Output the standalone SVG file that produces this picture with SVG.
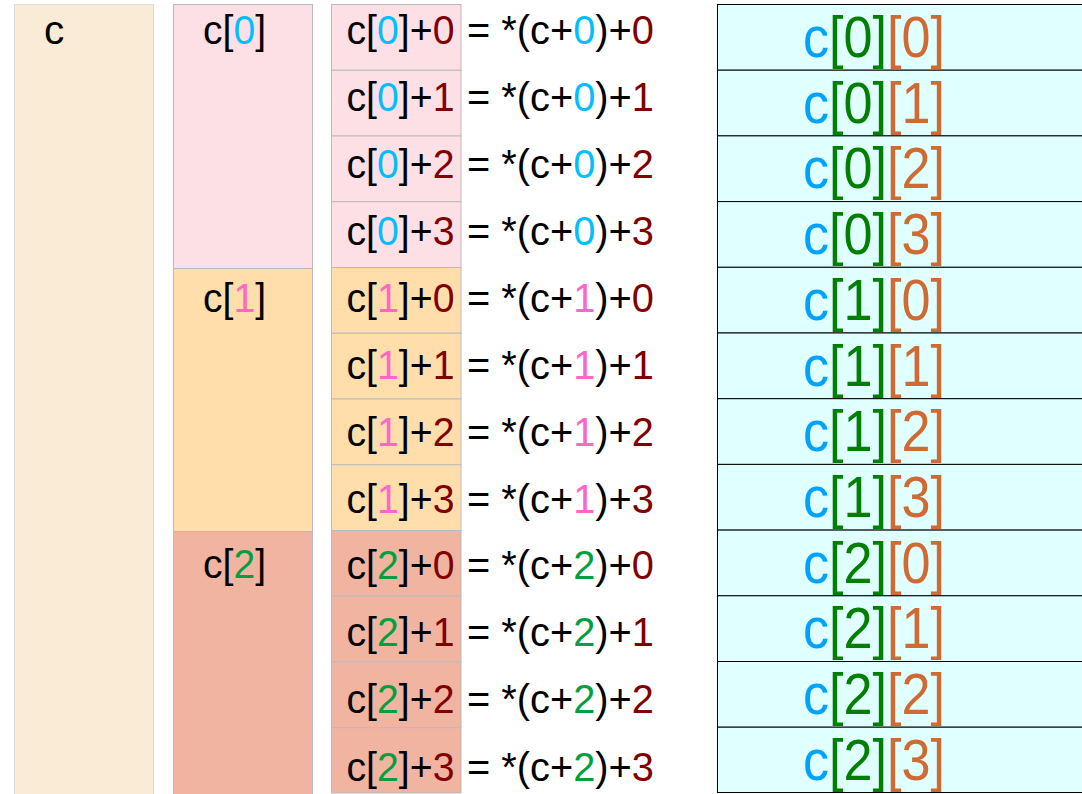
<svg xmlns="http://www.w3.org/2000/svg" width="1082" height="794" viewBox="0 0 1082 794">
<style>
text{font-family:"Liberation Sans",Arial,sans-serif;fill:#000}
.m{font-size:40.5px}
.r{font-size:57px}
.b0{fill:#00BFFF}.b1{fill:#FF66CC}.b2{fill:#00A040}
.dr{fill:#800000}
.rc{fill:#00A2FF}.rg{fill:#007F00}.ro{fill:#CF6A33}
.cell{stroke:#BBBBBB;stroke-width:1}
.p0{fill:#FDE0E6}.p1{fill:#FFDEAB}.p2{fill:#F0B4A1}
.rr{fill:#E0FFFF;stroke:#000;stroke-width:1}
</style>
<rect width="1082" height="794" fill="#fff"/>
<g id="col-c">
<rect x="14.5" y="4.5" width="139" height="800" fill="#FAEBD7" stroke="#DDDDDD"/>
<text class="m" x="44" y="44">c</text>
</g>
<g id="col-rows">
<g id="c0"><rect class="cell p0" x="173.5" y="4.5" width="139" height="264"/><text class="m" x="203" y="44" textLength="63" lengthAdjust="spacingAndGlyphs">c[<tspan class="b0">0</tspan>]</text></g>
<g id="c1"><rect class="cell p1" x="173.5" y="268.5" width="139" height="263"/><text class="m" x="203" y="312" textLength="63" lengthAdjust="spacingAndGlyphs">c[<tspan class="b1">1</tspan>]</text></g>
<g id="c2"><rect class="cell p2" x="173.5" y="531.5" width="139" height="270"/><text class="m" x="203" y="578" textLength="63" lengthAdjust="spacingAndGlyphs">c[<tspan class="b2">2</tspan>]</text></g>
</g>
<g id="col-ptr">
<rect class="cell p0" x="331.5" y="4.5" width="129.5" height="65.75"/>
<rect class="cell p0" x="331.5" y="70.25" width="129.5" height="65.75"/>
<rect class="cell p0" x="331.5" y="136" width="129.5" height="65.75"/>
<rect class="cell p0" x="331.5" y="201.75" width="129.5" height="65.75"/>
<rect class="cell p1" x="331.5" y="267.5" width="129.5" height="65.75"/>
<rect class="cell p1" x="331.5" y="333.25" width="129.5" height="65.75"/>
<rect class="cell p1" x="331.5" y="399" width="129.5" height="65.75"/>
<rect class="cell p1" x="331.5" y="464.75" width="129.5" height="65.75"/>
<rect class="cell p2" x="331.5" y="530.5" width="129.5" height="65.75"/>
<rect class="cell p2" x="331.5" y="596.25" width="129.5" height="65.75"/>
<rect class="cell p2" x="331.5" y="662" width="129.5" height="65.75"/>
<rect class="cell p2" x="331.5" y="727.75" width="129.5" height="65.25"/>
<text class="m" x="346.5" y="44" textLength="108" lengthAdjust="spacingAndGlyphs">c[<tspan class="b0">0</tspan>]+<tspan class="dr">0</tspan></text>
<text class="m" x="346.5" y="111" textLength="108" lengthAdjust="spacingAndGlyphs">c[<tspan class="b0">0</tspan>]+<tspan class="dr">1</tspan></text>
<text class="m" x="346.5" y="178" textLength="108" lengthAdjust="spacingAndGlyphs">c[<tspan class="b0">0</tspan>]+<tspan class="dr">2</tspan></text>
<text class="m" x="346.5" y="245" textLength="108" lengthAdjust="spacingAndGlyphs">c[<tspan class="b0">0</tspan>]+<tspan class="dr">3</tspan></text>
<text class="m" x="346.5" y="312" textLength="108" lengthAdjust="spacingAndGlyphs">c[<tspan class="b1">1</tspan>]+<tspan class="dr">0</tspan></text>
<text class="m" x="346.5" y="379" textLength="108" lengthAdjust="spacingAndGlyphs">c[<tspan class="b1">1</tspan>]+<tspan class="dr">1</tspan></text>
<text class="m" x="346.5" y="446" textLength="108" lengthAdjust="spacingAndGlyphs">c[<tspan class="b1">1</tspan>]+<tspan class="dr">2</tspan></text>
<text class="m" x="346.5" y="513" textLength="108" lengthAdjust="spacingAndGlyphs">c[<tspan class="b1">1</tspan>]+<tspan class="dr">3</tspan></text>
<text class="m" x="346.5" y="579" textLength="108" lengthAdjust="spacingAndGlyphs">c[<tspan class="b2">2</tspan>]+<tspan class="dr">0</tspan></text>
<text class="m" x="346.5" y="646" textLength="108" lengthAdjust="spacingAndGlyphs">c[<tspan class="b2">2</tspan>]+<tspan class="dr">1</tspan></text>
<text class="m" x="346.5" y="713" textLength="108" lengthAdjust="spacingAndGlyphs">c[<tspan class="b2">2</tspan>]+<tspan class="dr">2</tspan></text>
<text class="m" x="346.5" y="781" textLength="108" lengthAdjust="spacingAndGlyphs">c[<tspan class="b2">2</tspan>]+<tspan class="dr">3</tspan></text>
</g>
<g id="col-eq">
<text class="m" x="467" y="44" textLength="187" lengthAdjust="spacingAndGlyphs">= *(c+<tspan class="b0">0</tspan>)+<tspan class="dr">0</tspan></text>
<text class="m" x="467" y="111" textLength="187" lengthAdjust="spacingAndGlyphs">= *(c+<tspan class="b0">0</tspan>)+<tspan class="dr">1</tspan></text>
<text class="m" x="467" y="178" textLength="187" lengthAdjust="spacingAndGlyphs">= *(c+<tspan class="b0">0</tspan>)+<tspan class="dr">2</tspan></text>
<text class="m" x="467" y="245" textLength="187" lengthAdjust="spacingAndGlyphs">= *(c+<tspan class="b0">0</tspan>)+<tspan class="dr">3</tspan></text>
<text class="m" x="467" y="312" textLength="187" lengthAdjust="spacingAndGlyphs">= *(c+<tspan class="b1">1</tspan>)+<tspan class="dr">0</tspan></text>
<text class="m" x="467" y="379" textLength="187" lengthAdjust="spacingAndGlyphs">= *(c+<tspan class="b1">1</tspan>)+<tspan class="dr">1</tspan></text>
<text class="m" x="467" y="446" textLength="187" lengthAdjust="spacingAndGlyphs">= *(c+<tspan class="b1">1</tspan>)+<tspan class="dr">2</tspan></text>
<text class="m" x="467" y="513" textLength="187" lengthAdjust="spacingAndGlyphs">= *(c+<tspan class="b1">1</tspan>)+<tspan class="dr">3</tspan></text>
<text class="m" x="467" y="579" textLength="187" lengthAdjust="spacingAndGlyphs">= *(c+<tspan class="b2">2</tspan>)+<tspan class="dr">0</tspan></text>
<text class="m" x="467" y="646" textLength="187" lengthAdjust="spacingAndGlyphs">= *(c+<tspan class="b2">2</tspan>)+<tspan class="dr">1</tspan></text>
<text class="m" x="467" y="713" textLength="187" lengthAdjust="spacingAndGlyphs">= *(c+<tspan class="b2">2</tspan>)+<tspan class="dr">2</tspan></text>
<text class="m" x="467" y="781" textLength="187" lengthAdjust="spacingAndGlyphs">= *(c+<tspan class="b2">2</tspan>)+<tspan class="dr">3</tspan></text>
</g>
<g id="col-elem">
<rect class="rr" x="717.5" y="4.5" width="380" height="65.7"/>
<rect class="rr" x="717.5" y="70.2" width="380" height="65.7"/>
<rect class="rr" x="717.5" y="135.9" width="380" height="65.7"/>
<rect class="rr" x="717.5" y="201.6" width="380" height="65.7"/>
<rect class="rr" x="717.5" y="267.3" width="380" height="65.7"/>
<rect class="rr" x="717.5" y="333" width="380" height="65.7"/>
<rect class="rr" x="717.5" y="398.7" width="380" height="65.7"/>
<rect class="rr" x="717.5" y="464.4" width="380" height="65.7"/>
<rect class="rr" x="717.5" y="530.1" width="380" height="65.7"/>
<rect class="rr" x="717.5" y="595.8" width="380" height="65.7"/>
<rect class="rr" x="717.5" y="661.5" width="380" height="65.7"/>
<rect class="rr" x="717.5" y="727.2" width="380" height="65.3"/>
<text class="r" x="803" y="57" textLength="142" lengthAdjust="spacingAndGlyphs"><tspan class="rc">c</tspan><tspan class="rg">[0]</tspan><tspan class="ro">[0]</tspan></text>
<text class="r" x="803" y="122.7" textLength="142" lengthAdjust="spacingAndGlyphs"><tspan class="rc">c</tspan><tspan class="rg">[0]</tspan><tspan class="ro">[1]</tspan></text>
<text class="r" x="803" y="188.4" textLength="142" lengthAdjust="spacingAndGlyphs"><tspan class="rc">c</tspan><tspan class="rg">[0]</tspan><tspan class="ro">[2]</tspan></text>
<text class="r" x="803" y="254.1" textLength="142" lengthAdjust="spacingAndGlyphs"><tspan class="rc">c</tspan><tspan class="rg">[0]</tspan><tspan class="ro">[3]</tspan></text>
<text class="r" x="803" y="319.8" textLength="142" lengthAdjust="spacingAndGlyphs"><tspan class="rc">c</tspan><tspan class="rg">[1]</tspan><tspan class="ro">[0]</tspan></text>
<text class="r" x="803" y="385.5" textLength="142" lengthAdjust="spacingAndGlyphs"><tspan class="rc">c</tspan><tspan class="rg">[1]</tspan><tspan class="ro">[1]</tspan></text>
<text class="r" x="803" y="451.2" textLength="142" lengthAdjust="spacingAndGlyphs"><tspan class="rc">c</tspan><tspan class="rg">[1]</tspan><tspan class="ro">[2]</tspan></text>
<text class="r" x="803" y="516.9" textLength="142" lengthAdjust="spacingAndGlyphs"><tspan class="rc">c</tspan><tspan class="rg">[1]</tspan><tspan class="ro">[3]</tspan></text>
<text class="r" x="803" y="582.6" textLength="142" lengthAdjust="spacingAndGlyphs"><tspan class="rc">c</tspan><tspan class="rg">[2]</tspan><tspan class="ro">[0]</tspan></text>
<text class="r" x="803" y="648.3" textLength="142" lengthAdjust="spacingAndGlyphs"><tspan class="rc">c</tspan><tspan class="rg">[2]</tspan><tspan class="ro">[1]</tspan></text>
<text class="r" x="803" y="714" textLength="142" lengthAdjust="spacingAndGlyphs"><tspan class="rc">c</tspan><tspan class="rg">[2]</tspan><tspan class="ro">[2]</tspan></text>
<text class="r" x="803" y="779.7" textLength="142" lengthAdjust="spacingAndGlyphs"><tspan class="rc">c</tspan><tspan class="rg">[2]</tspan><tspan class="ro">[3]</tspan></text>
</g>
</svg>
